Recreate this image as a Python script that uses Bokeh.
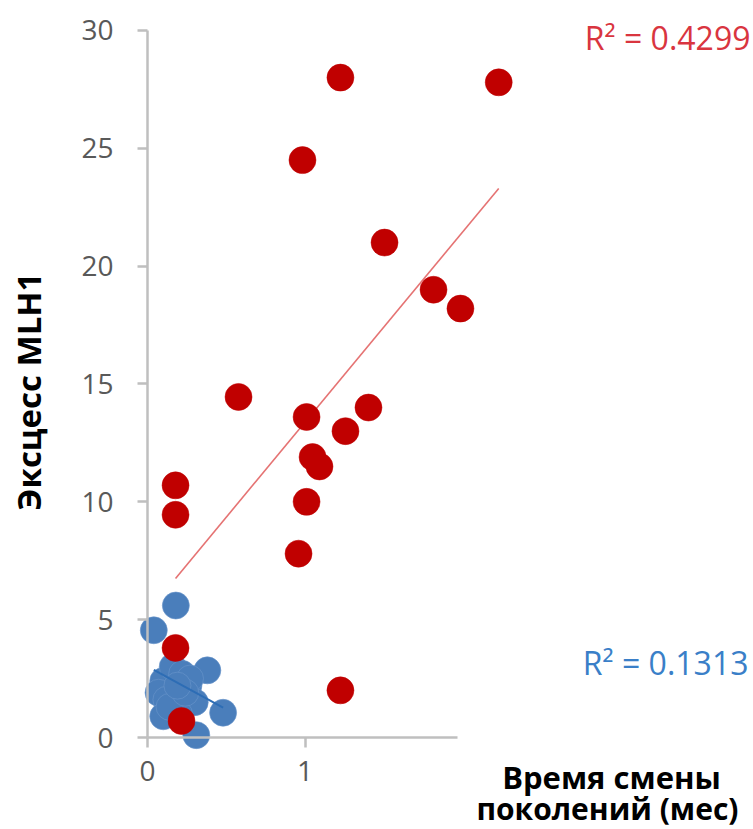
from bokeh.plotting import figure
from bokeh.models import Label, FixedTicker
from bokeh.core.properties import value
from bokeh.embed import file_html
from bokeh.resources import INLINE
import math

# Data
red_x = [1.225, 2.23, 0.984, 1.505, 1.816, 1.987, 0.578, 1.01, 1.403, 1.257,
         1.048, 1.092, 1.01, 0.959, 0.178, 0.178, 0.178, 0.216, 1.225]
red_y = [28.0, 27.8, 24.5, 21.0, 19.0, 18.2, 14.45, 13.6, 14.0, 13.0,
         11.9, 11.5, 10.0, 7.8, 10.7, 9.45, 3.8, 0.7, 2.0]

blue_x = [0.04, 0.18, 0.10, 0.07, 0.12, 0.16, 0.22, 0.26, 0.30, 0.38,
          0.48, 0.10, 0.20, 0.31, 0.27, 0.14, 0.24, 0.19]
blue_y = [4.55, 5.6, 2.4, 1.9, 1.6, 3.0, 2.7, 2.2, 1.5, 2.85,
          1.05, 0.9, 1.0, 0.1, 2.5, 1.3, 1.9, 2.2]

red_trend_x = [0.178, 2.23]
red_trend_y = [6.75, 23.3]
blue_trend_x = [0.04, 0.48]
blue_trend_y = [2.87, 1.27]

r2_red = "R\u00b2 = 0.4299"
r2_blue = "R\u00b2 = 0.1313"
y_title = "Эксцесс MLH1"
x_title_line1 = "Время смены"
x_title_line2 = "поколений (мес)"
y_ticks = [0, 5, 10, 15, 20, 25, 30]
x_ticks = [0, 1]

PX_X = 157.5
PX_Y = 23.567
W, H = 753, 829
LEFT, BOTTOM = 147, 92

x_start = -LEFT / PX_X
x_end = (W - LEFT) / PX_X
y_start = -BOTTOM / PX_Y
y_end = (H - BOTTOM) / PX_Y

p = figure(width=W, height=H, output_backend="svg", toolbar_location=None,
           x_range=(x_start, x_end), y_range=(y_start, y_end),
           min_border=0)
p.outline_line_color = None
p.grid.visible = False
p.background_fill_color = "white"
p.border_fill_color = "white"

axis_color = "#bfbfbf"
tick_font = "Open Sans"

p.xaxis.fixed_location = 0
p.yaxis.fixed_location = 0
p.xaxis.bounds = (0, 1.97)
p.yaxis.bounds = (0, 30)
p.xaxis.ticker = FixedTicker(ticks=x_ticks)
p.yaxis.ticker = FixedTicker(ticks=y_ticks)
for ax in (p.xaxis[0], p.yaxis[0]):
    ax.axis_line_color = axis_color
    ax.axis_line_width = 2.5
    ax.major_tick_line_color = axis_color
    ax.major_tick_line_width = 2.5
    ax.major_tick_out = 10
    ax.major_tick_in = 0
    ax.minor_tick_line_color = None
    ax.major_label_text_font = tick_font
    ax.major_label_text_font_size = "28px"
    ax.major_label_text_color = "#595959"
p.yaxis.major_label_standoff = 24
p.xaxis.major_label_standoff = 13


def data_x(px):
    return (px - LEFT) / PX_X


def data_y(py):
    return (H - BOTTOM - py) / PX_Y


# trend lines
p.line(red_trend_x, red_trend_y, line_color="#e57373", line_width=1.6)
# points
p.scatter(blue_x, blue_y, size=27, fill_color="#4a7ebb", line_color="#6b96cc",
          line_width=1, line_alpha=0.6)
p.line(blue_trend_x, blue_trend_y, line_color="#2d6db5", line_width=2)
p.scatter(red_x, red_y, size=27, fill_color="#c00000", line_color="#c00000",
          line_alpha=0.5, line_width=1)

# axis titles
p.add_layout(Label(x=data_x(611), y=data_y(776), text=x_title_line1,
                   text_align="center", text_baseline="alphabetic",
                   text_font="Open Sans", text_font_style="bold",
                   text_font_size="31px", text_color="#000000"))
p.add_layout(Label(x=data_x(607), y=data_y(808), text=x_title_line2,
                   text_align="center", text_baseline="alphabetic",
                   text_font="Open Sans", text_font_style="bold",
                   text_font_size="30px", text_color="#000000"))
p.add_layout(Label(x=data_x(28), y=data_y(391), text=y_title, angle=math.pi / 2,
                   text_align="center", text_baseline="middle",
                   text_font="Open Sans", text_font_style="bold",
                   text_font_size="33px", text_color="#000000"))

p.add_layout(Label(x=data_x(750), y=data_y(37), text=r2_red, text_align="right",
                   text_baseline="alphabetic", text_font="Open Sans",
                   text_font_size="32px", text_color="#d9353f"))
p.add_layout(Label(x=data_x(748), y=data_y(662), text=r2_blue, text_align="right",
                   text_baseline="alphabetic", text_font="Open Sans",
                   text_font_size="32px", text_color="#3a7fc8"))

open("out.html", "w").write(file_html(p, INLINE))
